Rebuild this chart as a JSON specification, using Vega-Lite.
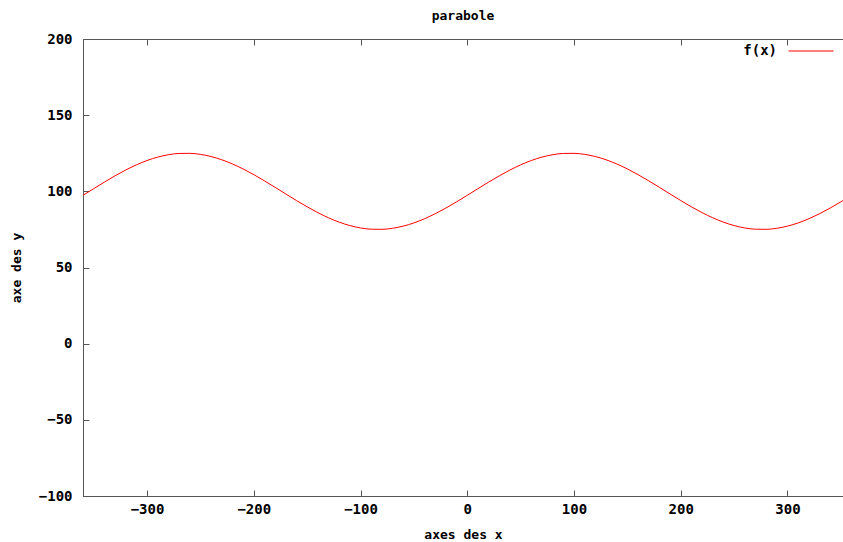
{
  "$schema": "https://vega.github.io/schema/vega-lite/v6.json",
  "width": 760,
  "height": 457,
  "autosize": "none",
  "padding": {"left": 83, "top": 39, "right": 0, "bottom": 46},
  "background": "white",
  "title": {"text": "parabole", "font": "DejaVu Sans Mono", "fontSize": 13, "fontWeight": "bold", "color": "black", "anchor": "middle", "offset": 5},
  "config": {
    "view": {"stroke": "#555555", "strokeWidth": 1},
    "axis": {
      "domainColor": "#555555", "tickColor": "#555555", "tickSize": -6, "grid": false,
      "labelFont": "DejaVu Sans Mono", "labelFontSize": 14, "labelFontWeight": "bold", "labelColor": "black",
      "titleFont": "DejaVu Sans Mono", "titleFontSize": 13, "titleFontWeight": "bold", "titleColor": "black"
    }
  },
  "data": {"values": [
    {"x": -360, "y": 97.39}, {"x": -350, "y": 101.74}, {"x": -340, "y": 106.05}, {"x": -330, "y": 110.17},
    {"x": -320, "y": 113.98}, {"x": -310, "y": 117.37}, {"x": -300, "y": 120.23}, {"x": -290, "y": 122.47},
    {"x": -280, "y": 124.03}, {"x": -270, "y": 124.86}, {"x": -260, "y": 124.94}, {"x": -250, "y": 124.26},
    {"x": -240, "y": 122.84}, {"x": -230, "y": 120.73}, {"x": -220, "y": 117.98}, {"x": -210, "y": 114.69},
    {"x": -200, "y": 110.96}, {"x": -190, "y": 106.89}, {"x": -180, "y": 102.61}, {"x": -170, "y": 98.26},
    {"x": -160, "y": 93.95}, {"x": -150, "y": 89.83}, {"x": -140, "y": 86.02}, {"x": -130, "y": 82.63},
    {"x": -120, "y": 79.77}, {"x": -110, "y": 77.53}, {"x": -100, "y": 75.97}, {"x": -90, "y": 75.14},
    {"x": -80, "y": 75.06}, {"x": -70, "y": 75.74}, {"x": -60, "y": 77.16}, {"x": -50, "y": 79.27},
    {"x": -40, "y": 82.02}, {"x": -30, "y": 85.31}, {"x": -20, "y": 89.04}, {"x": -10, "y": 93.11},
    {"x": 0, "y": 97.39}, {"x": 10, "y": 101.74}, {"x": 20, "y": 106.05}, {"x": 30, "y": 110.17},
    {"x": 40, "y": 113.98}, {"x": 50, "y": 117.37}, {"x": 60, "y": 120.23}, {"x": 70, "y": 122.47},
    {"x": 80, "y": 124.03}, {"x": 90, "y": 124.86}, {"x": 100, "y": 124.94}, {"x": 110, "y": 124.26},
    {"x": 120, "y": 122.84}, {"x": 130, "y": 120.73}, {"x": 140, "y": 117.98}, {"x": 150, "y": 114.69},
    {"x": 160, "y": 110.96}, {"x": 170, "y": 106.89}, {"x": 180, "y": 102.61}, {"x": 190, "y": 98.26},
    {"x": 200, "y": 93.95}, {"x": 210, "y": 89.83}, {"x": 220, "y": 86.02}, {"x": 230, "y": 82.63},
    {"x": 240, "y": 79.77}, {"x": 250, "y": 77.53}, {"x": 260, "y": 75.97}, {"x": 270, "y": 75.14},
    {"x": 280, "y": 75.06}, {"x": 290, "y": 75.74}, {"x": 300, "y": 77.16}, {"x": 310, "y": 79.27},
    {"x": 320, "y": 82.02}, {"x": 330, "y": 85.31}, {"x": 340, "y": 89.04}, {"x": 350, "y": 93.11},
    {"x": 360, "y": 97.39}
  ]},
  "layer": [
    {
      "mark": {"type": "line", "strokeWidth": 1, "clip": true, "interpolate": "monotone"},
      "encoding": {
        "x": {"field": "x", "type": "quantitative", "scale": {"domain": [-360, 352], "nice": false, "zero": false},
              "axis": {"orient": "bottom", "values": [-300, -200, -100, 0, 100, 200, 300], "title": "axes des x", "labelPadding": 12, "titlePadding": 12}},
        "y": {"field": "y", "type": "quantitative", "scale": {"domain": [-100, 200], "nice": false, "zero": false},
              "axis": {"values": [-100, -50, 0, 50, 100, 150, 200], "title": "axe des y", "labelPadding": 17, "titlePadding": 15}},
        "color": {"datum": "f(x)", "type": "nominal", "scale": {"range": ["#ff0000"]},
                  "legend": {"orient": "none", "legendX": 705, "legendY": -11, "title": null, "symbolType": "stroke", "symbolSize": 2025, "symbolStrokeWidth": 1, "labelAlign": "right", "labelOffset": -57, "labelFont": "DejaVu Sans Mono", "labelFontSize": 14, "labelFontWeight": "bold", "labelColor": "black", "padding": 0}}
      }
    },
    {
      "mark": {"type": "line", "opacity": 0},
      "encoding": {
        "x": {"field": "x", "type": "quantitative", "axis": {"orient": "top", "labels": false, "title": null, "domain": false, "values": [-300, -200, -100, 0, 100, 200, 300]}},
        "y": {"field": "y", "type": "quantitative"}
      }
    }
  ],
  "resolve": {"axis": {"x": "independent"}}
}
